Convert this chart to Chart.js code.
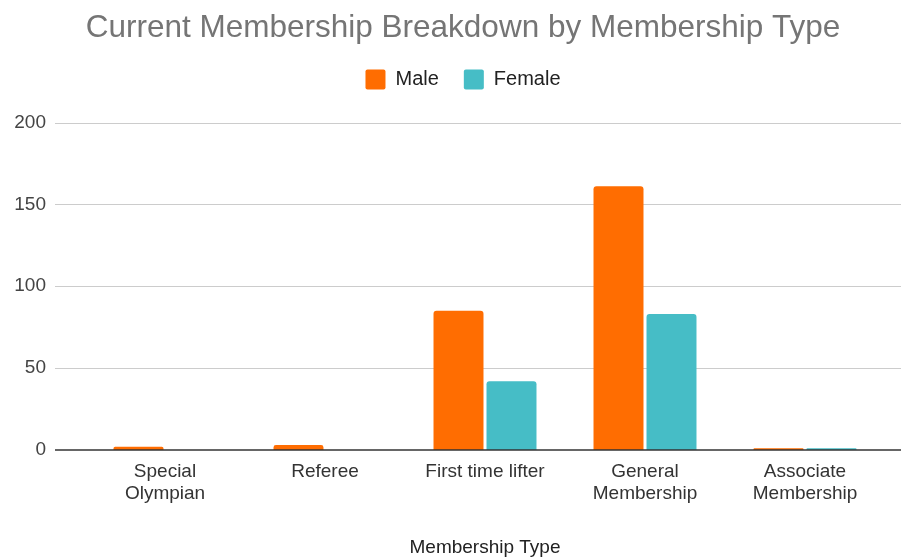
<!DOCTYPE html>
<html>
<head>
<meta charset="utf-8">
<script src="https://cdn.jsdelivr.net/npm/chart.js@4"></script>
<style>
    html, body { margin: 0; padding: 0; background: #fff; }
    #wrap { width: 901px; height: 559px; }
</style>
</head>
<body>
<div id="wrap"><canvas id="membershipChart"></canvas></div>
<script>
// Current membership by type, split by gender
const categories = [
    ['Special', 'Olympian'],
    'Referee',
    'First time lifter',
    ['General', 'Membership'],
    ['Associate', 'Membership']
];
const maleCounts = [2, 3, 85, 161, 1];
const femaleCounts = [0, 0, 42, 83, 1];
const yTicks = [0, 50, 100, 150, 200];

const FONT = "'Liberation Sans', Arial, sans-serif";

// gridlines run wider than the bar area, like the sheets chart
const wideGrid = {
    id: 'wideGrid',
    beforeDatasetsDraw(chart) {
        const ctx = chart.ctx;
        const y = chart.scales.y;
        ctx.save();
        ctx.strokeStyle = '#cccccc';
        ctx.lineWidth = 1;
        y.ticks.forEach(t => {
            if (t.value === 0) return;
            const py = Math.round(y.getPixelForValue(t.value)) + 0.5;
            ctx.beginPath();
            ctx.moveTo(55, py);
            ctx.lineTo(chart.width, py);
            ctx.stroke();
        });
        ctx.restore();
    },
    afterDatasetsDraw(chart) {
        const ctx = chart.ctx;
        const py = chart.scales.y.getPixelForValue(0);
        ctx.save();
        ctx.strokeStyle = '#333333';
        ctx.lineWidth = 1.5;
        ctx.beginPath();
        ctx.moveTo(55, py);
        ctx.lineTo(chart.width, py);
        ctx.stroke();
        ctx.restore();
    }
};

// extra room under the legend, and title/legend centred a bit to the right
const headerLayout = {
    id: 'headerLayout',
    beforeInit(chart) {
        const origFit = chart.legend.fit;
        chart.legend.fit = function() {
            origFit.call(this);
            this.height += 23;
        };
    },
    afterLayout(chart) {
        chart.titleBlock.left += 41;
        chart.legend.left += 41;
    }
};

const ctx = document.getElementById('membershipChart').getContext('2d');
new Chart(ctx, {
    type: 'bar',
    data: {
        labels: categories,
        datasets: [{
            label: 'Male',
            data: maleCounts,
            backgroundColor: '#ff6d01',
            borderWidth: 0,
            borderRadius: 3
        }, {
            label: 'Female',
            data: femaleCounts,
            backgroundColor: '#46bdc6',
            borderWidth: 0,
            borderRadius: 3
        }]
    },
    options: {
        responsive: true,
        maintainAspectRatio: false,
        animation: false,
        layout: { padding: { left: 0, right: 16, top: 0, bottom: 0 } },
        datasets: {
            bar: { categoryPercentage: 0.6625, barPercentage: 0.943 }
        },
        plugins: {
            title: {
                display: true,
                text: 'Current Membership Breakdown by Membership Type',
                color: '#757575',
                font: { family: FONT, size: 31.5, weight: 'normal', lineHeight: 1 },
                padding: { top: 13, bottom: 0 }
            },
            legend: {
                position: 'top',
                labels: {
                    color: '#222222',
                    font: { family: FONT, size: 20 },
                    boxWidth: 20,
                    boxHeight: 20,
                    padding: 25,
                    useBorderRadius: true,
                    borderRadius: 2
                }
            },
            tooltip: { enabled: false }
        },
        scales: {
            x: {
                grid: { display: false, drawTicks: false },
                border: { display: false },
                ticks: {
                    color: '#333333',
                    font: { family: FONT, size: 19, lineHeight: 1.2 },
                    padding: 10,
                    maxRotation: 0,
                    autoSkip: false
                },
                title: {
                    display: true,
                    text: 'Membership Type',
                    color: '#222222',
                    font: { family: FONT, size: 19, lineHeight: 1.2 },
                    padding: { top: 0, bottom: 0 }
                },
                afterFit(scale) { scale.height = 109; }
            },
            y: {
                min: 0,
                max: 200,
                grid: { display: false, drawTicks: false },
                border: { display: false },
                afterBuildTicks(scale) {
                    scale.ticks = yTicks.map(v => ({ value: v }));
                },
                ticks: {
                    color: '#444444',
                    font: { family: FONT, size: 19 },
                    padding: 39
                },
                afterFit(scale) { scale.width = 85; }
            }
        }
    },
    plugins: [wideGrid, headerLayout]
});
</script>
</body>
</html>
